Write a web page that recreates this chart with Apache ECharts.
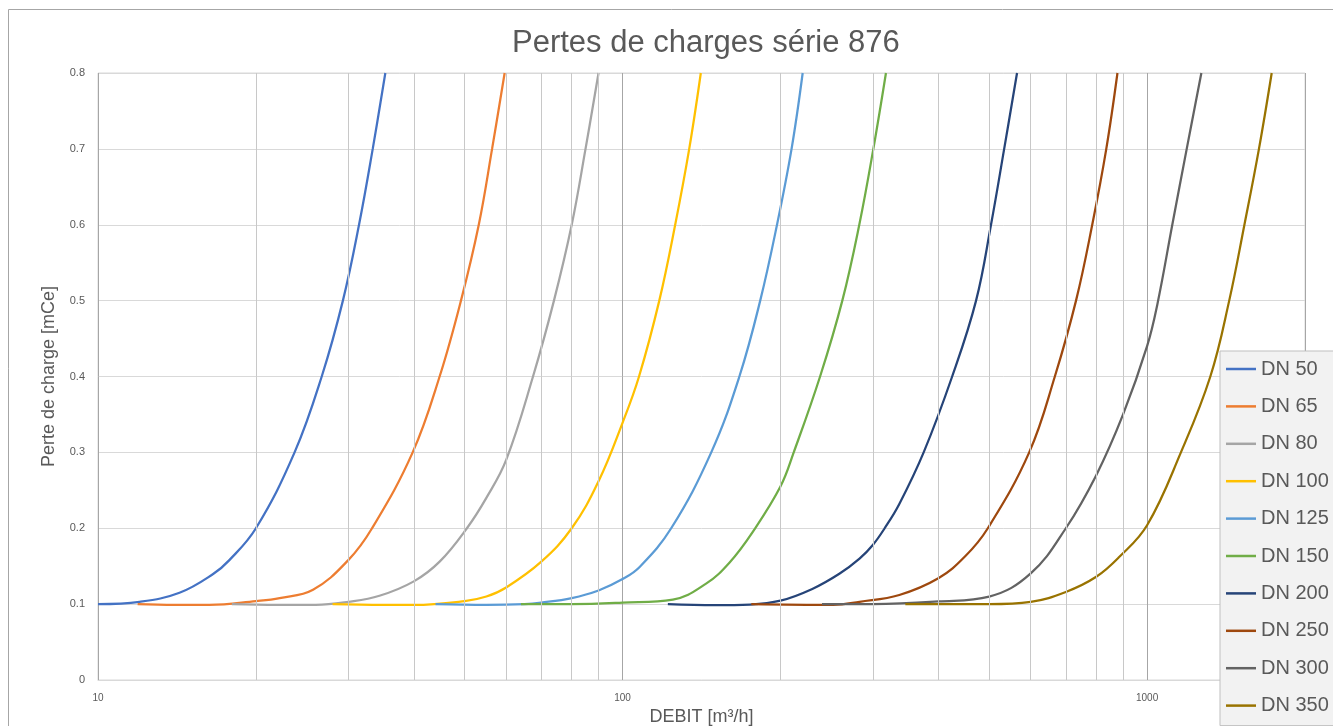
<!DOCTYPE html>
<html>
<head>
    <meta charset="utf-8" />
    <title>Pertes de charges série 876</title>
    <script src="https://cdn.jsdelivr.net/npm/echarts@6/dist/echarts.min.js"></script>
    <style>html, body { margin: 0; padding: 0; background: #fff; }</style>
</head>
<body>
    <div id="main" style="width: 1333px;height:726px;"></div>
    <script type="text/javascript">
        // débit [m3/h] et perte de charge [mCe]
        var dn50Q = [10, 12, 14.3, 16.6, 17.8, 20, 23.7, 26.7, 29.3, 31.45, 33.4, 35.3];
        var dn50P = [0.1, 0.103, 0.115, 0.14, 0.158, 0.2, 0.3, 0.4, 0.5, 0.6, 0.7, 0.8];
        var dn65Q = [11.9, 14, 16.3, 20, 22.2, 25.7, 30, 33.3, 39.8, 44.8, 49.2, 53.2, 56.4, 59.6];
        var dn65P = [0.1, 0.099, 0.099, 0.104, 0.108, 0.119, 0.158, 0.2, 0.3, 0.4, 0.5, 0.6, 0.7, 0.8];
        var dn80Q = [18, 22, 26, 30, 34.4, 40, 44.8, 50.5, 55, 60, 67.5, 74, 80, 85, 90];
        var dn80P = [0.1, 0.099, 0.099, 0.103, 0.111, 0.13, 0.156, 0.2, 0.24, 0.29, 0.4, 0.5, 0.6, 0.7, 0.8];
        var dn100Q = [28, 35, 40, 50, 55, 60, 70, 80, 90, 100, 107.5, 117.5, 126, 134, 141];
        var dn100P = [0.1, 0.099, 0.099, 0.104, 0.11, 0.122, 0.156, 0.2, 0.262, 0.339, 0.4, 0.5, 0.6, 0.7, 0.8];
        var dn125Q = [44, 55, 65, 70, 80, 90, 100, 107.8, 123.8, 147.6, 167, 183, 197, 210, 220.5];
        var dn125P = [0.1, 0.099, 0.1, 0.102, 0.108, 0.118, 0.133, 0.149, 0.2, 0.3, 0.4, 0.5, 0.6, 0.7, 0.8];
        var dn150Q = [64, 80, 100, 124.7, 144.3, 160, 177, 200, 212, 238, 262.4, 282.7, 300.7, 317.8];
        var dn150P = [0.1, 0.1, 0.102, 0.106, 0.127, 0.155, 0.195, 0.255, 0.3, 0.4, 0.5, 0.6, 0.7, 0.8];
        var dn200Q = [122, 150, 175, 200, 230, 259, 283, 300, 316, 337, 375, 425, 472, 504, 534, 565];
        var dn200P = [0.1, 0.0987, 0.0995, 0.1045, 0.12, 0.14, 0.16, 0.178, 0.2, 0.232, 0.3, 0.4, 0.5, 0.6, 0.7, 0.8];
        var dn250Q = [176, 252, 283, 337, 400, 450, 497, 596, 667, 732, 786, 836, 878];
        var dn250P = [0.1, 0.099, 0.103, 0.112, 0.134, 0.163, 0.2, 0.3, 0.4, 0.5, 0.6, 0.7, 0.8];
        var dn300Q = [240, 300, 400, 500, 600, 700, 800, 900, 1000, 1046, 1117, 1190, 1269];
        var dn300P = [0.1, 0.1, 0.1035, 0.11, 0.1405, 0.2, 0.27, 0.35, 0.44, 0.495, 0.6, 0.7, 0.8];
        var dn350Q = [346, 400, 500, 600, 700, 800, 884.6, 1000, 1160, 1320, 1434, 1533, 1634, 1728];
        var dn350P = [0.1, 0.1, 0.1, 0.103, 0.116, 0.136, 0.162, 0.204, 0.3, 0.4, 0.5, 0.6, 0.7, 0.8];

        var names = ['DN 50', 'DN 65', 'DN 80', 'DN 100', 'DN 125', 'DN 150', 'DN 200', 'DN 250', 'DN 300', 'DN 350'];
        var colors = ['#4472c4', '#ed7d31', '#a5a5a5', '#ffc000', '#5b9bd5', '#70ad47', '#264478', '#9e480e', '#636363', '#997300'];
        var debits = [dn50Q, dn65Q, dn80Q, dn100Q, dn125Q, dn150Q, dn200Q, dn250Q, dn300Q, dn350Q];
        var pertes = [dn50P, dn65P, dn80P, dn100P, dn125P, dn150P, dn200P, dn250P, dn300P, dn350P];

        // graduations secondaires de l'axe log
        var xMinor = [20, 30, 40, 50, 60, 70, 80, 90, 200, 300, 400, 500, 600, 700, 800, 900];

        var myChart = echarts.init(document.getElementById('main'));

        var series = [{
            name: 'grille',
            type: 'line',
            data: [[10, null]],
            silent: true,
            z: 1,
            markLine: {
                silent: true,
                symbol: 'none',
                animation: false,
                label: { show: false },
                lineStyle: { color: '#c8c8c8', width: 1, type: 'solid' },
                data: xMinor.map(function (v) { return { xAxis: v }; })
            }
        }];
        for (var i = 0; i < names.length; i++) {
            var pts = [];
            for (var j = 0; j < debits[i].length; j++) {
                pts.push([debits[i][j], pertes[i][j]]);
            }
            series.push({
                name: names[i],
                type: 'line',
                data: pts,
                symbol: 'none',
                smooth: 0.4,
                z: 3,
                itemStyle: { color: colors[i] },
                lineStyle: { color: colors[i], width: 2.25 }
            });
        }

        var option = {
            animation: false,
            backgroundColor: '#ffffff',
            textStyle: { fontFamily: 'Liberation Sans, Arial, sans-serif' },
            title: {
                text: 'Pertes de charges série 876',
                left: 507,
                top: 23,
                textStyle: { fontSize: 31, fontWeight: 'normal', color: '#595959' }
            },
            graphic: [{
                type: 'rect',
                silent: true,
                z: -1,
                shape: { x: 8.5, y: 9.5, width: 1400, height: 800 },
                style: { fill: 'none', stroke: '#a6a6a6', lineWidth: 1 }
            }],
            grid: {
                left: 98, right: 28, top: 73, bottom: 46,
                outerBoundsMode: 'none',
                show: true, borderColor: '#d9d9d9', borderWidth: 1
            },
            legend: {
                data: names,
                orient: 'vertical',
                left: 1220,
                top: 351,
                padding: [8, 30, 10, 6],
                backgroundColor: '#f2f2f2',
                borderColor: '#bfbfbf',
                borderWidth: 1,
                icon: 'rect',
                itemWidth: 30,
                itemHeight: 2.5,
                itemGap: 17.4,
                textStyle: { fontSize: 20, lineHeight: 20, color: '#595959' }
            },
            xAxis: {
                type: 'log',
                logBase: 10,
                min: 10,
                max: 2000,
                name: 'DEBIT [m³/h]',
                nameLocation: 'middle',
                nameGap: 25,
                nameTextStyle: { fontSize: 18, color: '#595959' },
                axisLine: { lineStyle: { color: '#d9d9d9' } },
                axisTick: { show: false },
                axisLabel: {
                    fontSize: 10, color: '#595959', margin: 13,
                    formatter: function (v) {
                        var l = Math.log(v) / Math.LN10;
                        return Math.abs(l - Math.round(l)) < 1e-6 ? String(Math.round(v)) : '';
                    }
                },
                splitLine: { show: true, lineStyle: { color: '#a6a6a6', width: 1 } }
            },
            yAxis: {
                type: 'value',
                min: 0,
                max: 0.8,
                interval: 0.1,
                name: 'Perte de charge [mCe]',
                nameLocation: 'middle',
                nameGap: 40,
                nameTextStyle: { fontSize: 18, color: '#595959' },
                axisLine: { show: false },
                axisTick: { show: false },
                axisLabel: { fontSize: 11, color: '#595959', margin: 13 },
                splitLine: { lineStyle: { color: '#d9d9d9', width: 1 } }
            },
            series: series
        };
        myChart.setOption(option);
    </script>
</body>
</html>
